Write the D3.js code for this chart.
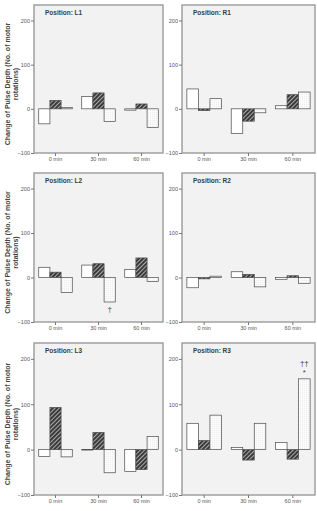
<!DOCTYPE html>
<html>
<head>
<meta charset="utf-8">
<script src="https://cdn.jsdelivr.net/npm/d3@7"></script>
<style>
  body { margin: 0; background: #fff; }
  svg { display: block; font-family: "Liberation Sans", Arial, sans-serif; }
</style>
</head>
<body>
<div id="chart"></div>
<script>
// categories and series
var times = ['0 min', '30 min', '60 min'];
var seriesKeys = ['open', 'hatched', 'dotted'];
var yTicks = [-100, 0, 100, 200];

// values per position, one row per time point: [open, hatched, dotted]
var valuesL1 = [[-34, 19, 3], [28, 36, -29], [-3, 11, -42]];
var valuesR1 = [[45, -4, 23], [-56, -28, -9], [7, 32, 38]];
var valuesL2 = [[23, 12, -34], [28, 31, -55], [18, 44, -9]];
var valuesR2 = [[-23, -3, 3], [13, 7, -21], [-4, 4, -13]];
var valuesL3 = [[-15, 93, -16], [-1, 38, -51], [-48, -44, 29]];
var valuesR3 = [[58, 20, 76], [5, -23, 58], [16, -21, 156]];

var panelNames = ['L1', 'R1', 'L2', 'R2', 'L3', 'R3'];
var panelValues = [valuesL1, valuesR1, valuesL2, valuesR2, valuesL3, valuesR3];

// significance marks: panel, time index, series index, lines of text
var notes = [
    { panel: 'L2', t: 1, s: 2, lines: ['\u2020'] },
    { panel: 'R3', t: 2, s: 2, lines: ['\u2020\u2020', '*'] }
];

var W = 317, H = 511;
var colX = [[34, 163], [182, 315]];
var rowY = [[5, 153], [173, 322], [343, 495]];

var svg = d3.select('#chart').append('svg')
    .attr('width', W)
    .attr('height', H);

var defs = svg.append('defs');

var hatch = defs.append('pattern')
    .attr('id', 'hatch')
    .attr('patternUnits', 'userSpaceOnUse')
    .attr('width', 3)
    .attr('height', 3)
    .attr('patternTransform', 'rotate(45)');
hatch.append('rect').attr('width', 3).attr('height', 3).attr('fill', '#3a3a3a');
hatch.append('line').attr('x1', 0.5).attr('y1', 0).attr('x2', 0.5).attr('y2', 3)
    .attr('stroke', '#b8b8b8').attr('stroke-width', 0.9);

var dots = defs.append('pattern')
    .attr('id', 'dots')
    .attr('patternUnits', 'userSpaceOnUse')
    .attr('width', 2)
    .attr('height', 2);
dots.append('rect').attr('width', 2).attr('height', 2).attr('fill', '#fdfdfd');
dots.append('rect').attr('x', 0.5).attr('y', 0.5).attr('width', 0.6).attr('height', 0.6).attr('fill', '#c4c4c4');

var fills = { open: '#ffffff', hatched: 'url(#hatch)', dotted: 'url(#dots)' };

panelNames.forEach(function(name, i) {
    var col = i % 2, row = Math.floor(i / 2);
    var x0 = colX[col][0], x1 = colX[col][1];
    var y0 = rowY[row][0], y1 = rowY[row][1];
    var data = panelValues[i];

    var x = d3.scaleBand()
        .domain(times)
        .range([x0, x1])
        .paddingInner(0.22)
        .paddingOuter(0.11);

    var xs = d3.scaleBand()
        .domain(seriesKeys)
        .range([0, x.bandwidth()]);

    var y = d3.scaleLinear()
        .domain([-100, 235])
        .range([y1, y0]);

    var g = svg.append('g').attr('class', 'panel-' + name);

    // panel background
    g.append('rect')
        .attr('x', x0).attr('y', y0)
        .attr('width', x1 - x0).attr('height', y1 - y0)
        .attr('fill', '#f2f2f2');

    // bars
    times.forEach(function(t, ti) {
        g.selectAll('.bar-' + ti)
            .data(seriesKeys)
            .enter()
            .append('rect')
            .attr('class', 'bar-' + ti)
            .attr('x', function(d) { return x(t) + xs(d); })
            .attr('width', xs.bandwidth())
            .attr('y', function(d, si) { return y(Math.max(0, data[ti][si])); })
            .attr('height', function(d, si) { return Math.abs(y(data[ti][si]) - y(0)); })
            .attr('fill', function(d) { return fills[d]; })
            .attr('stroke', '#4a4a4a')
            .attr('stroke-width', 0.7);
    });

    // notes
    notes.filter(function(n) { return n.panel === name; }).forEach(function(n) {
        var v = data[n.t][n.s];
        var cx = x(times[n.t]) + xs(seriesKeys[n.s]) + xs.bandwidth() / 2;
        n.lines.forEach(function(txt, li) {
            var ty = v < 0 ? y(v) + 10 + li * 9 : y(v) - 4 - (n.lines.length - 1 - li) * 9;
            g.append('text')
                .attr('x', cx)
                .attr('y', ty)
                .attr('text-anchor', 'middle')
                .attr('font-size', '8px')
                .attr('fill', '#444')
                .text(txt);
        });
    });

    // frame
    g.append('rect')
        .attr('x', x0).attr('y', y0)
        .attr('width', x1 - x0).attr('height', y1 - y0)
        .attr('fill', 'none')
        .attr('stroke', '#9a9a9a')
        .attr('stroke-width', 1.4);

    // y axis
    var yAxis = d3.axisLeft(y).tickValues(yTicks).tickSize(3).tickPadding(1);
    var ya = g.append('g')
        .attr('transform', 'translate(' + x0 + ',0)')
        .call(yAxis);
    ya.select('.domain').remove();
    ya.selectAll('line').attr('stroke', '#777');
    ya.selectAll('text').attr('font-size', '5.5px').attr('fill', '#555');

    // x axis
    var xAxis = d3.axisBottom(x).tickSize(3).tickPadding(1.5);
    var xa = g.append('g')
        .attr('transform', 'translate(0,' + y1 + ')')
        .call(xAxis);
    xa.select('.domain').remove();
    xa.selectAll('line').attr('stroke', '#777');
    xa.selectAll('text').attr('font-size', '5.5px').attr('fill', '#555');

    // title
    g.append('text')
        .attr('x', x0 + 11)
        .attr('y', y0 + 10)
        .attr('font-size', '6.5px')
        .attr('font-weight', 'bold')
        .attr('fill', '#3c3c3c')
        .text('Position: ' + name);

    // y axis label on the left column
    if (col === 0) {
        var cy = (y0 + y1) / 2 + 5;
        var lab = g.append('text')
            .attr('transform', 'translate(10,' + cy + ') rotate(-90)')
            .attr('text-anchor', 'middle')
            .attr('font-size', '7px')
            .attr('font-weight', 'bold')
            .attr('fill', '#444');
        lab.append('tspan').attr('x', 0).attr('dy', 0).text('Change of Pulse Depth (No. of motor');
        lab.append('tspan').attr('x', 0).attr('dy', 8).text('rotations)');
    }
});
</script>
</body>
</html>
